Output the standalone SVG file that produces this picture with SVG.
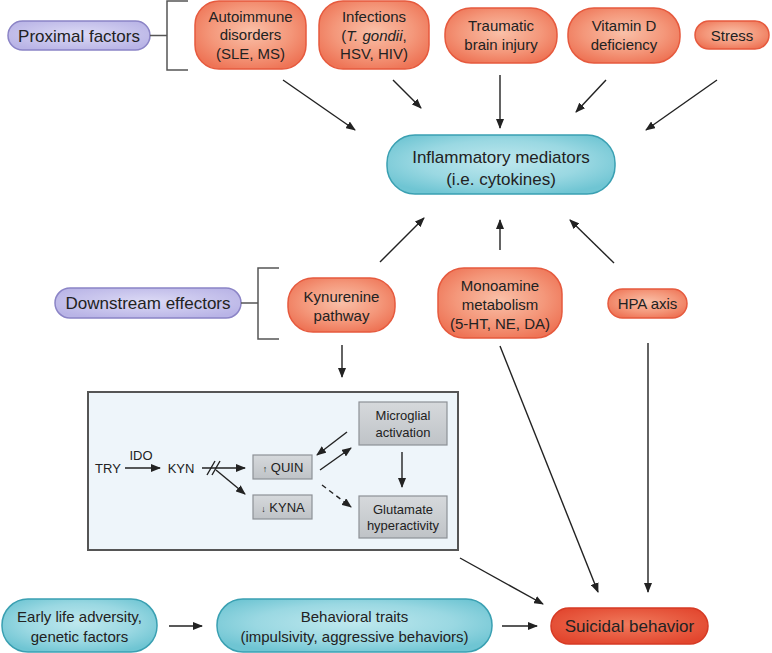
<svg xmlns="http://www.w3.org/2000/svg" width="772" height="653" viewBox="0 0 772 653">
<defs>
<radialGradient id="gRed" cx="50%" cy="45%" r="60%">
<stop offset="0" stop-color="#f9c0a8"/><stop offset="0.6" stop-color="#f4977a"/><stop offset="1" stop-color="#ee7456"/>
</radialGradient>
<radialGradient id="gSui" cx="50%" cy="45%" r="60%">
<stop offset="0" stop-color="#f07a5c"/><stop offset="1" stop-color="#e2462e"/>
</radialGradient>
<radialGradient id="gTeal" cx="50%" cy="45%" r="60%">
<stop offset="0" stop-color="#bfe8ee"/><stop offset="0.6" stop-color="#9ad8e2"/><stop offset="1" stop-color="#6fc5d3"/>
</radialGradient>
<radialGradient id="gPur" cx="50%" cy="45%" r="60%">
<stop offset="0" stop-color="#dcdaf5"/><stop offset="1" stop-color="#b9b4e6"/>
</radialGradient>
<linearGradient id="gGray" x1="0" y1="0" x2="0" y2="1">
<stop offset="0" stop-color="#d6d9dc"/><stop offset="1" stop-color="#bfc3c7"/>
</linearGradient>
<marker id="ah" markerWidth="10" markerHeight="8" refX="9" refY="4" orient="auto" markerUnits="userSpaceOnUse">
<path d="M0,0 L10,4 L0,8 z" fill="#222"/>
</marker>
<style>
.red{fill:url(#gRed);stroke:#e65a3e;stroke-width:1.5}
.sui{fill:url(#gSui);stroke:#d63a24;stroke-width:1.5}
.teal{fill:url(#gTeal);stroke:#3aa0b2;stroke-width:1.5}
.pur{fill:url(#gPur);stroke:#8b84c6;stroke-width:1.5}
.gray{fill:url(#gGray);stroke:#8d9196;stroke-width:1.2}
text{font-family:"Liberation Sans",Arial,sans-serif;fill:#222;text-anchor:middle}
.t15{font-size:15px}
.t17{font-size:17px}
.t13{font-size:13px}
.ln{stroke:#222;stroke-width:1.4;fill:none}
.arr{stroke:#222;stroke-width:1.4;fill:none;marker-end:url(#ah)}
.br{stroke:#555;stroke-width:1.5;fill:none}
</style>
</defs>
<rect width="772" height="653" fill="#ffffff"/>

<g id="proximal">
<rect class="pur" x="8" y="21" width="142" height="29" rx="14.5"/>
<text class="t17" x="79" y="41.5">Proximal factors</text>
</g>
<g id="autoimmune">
<rect class="red" x="195" y="1" width="111" height="68" rx="24"/>
<text class="t15" x="250.5" y="22">Autoimmune</text>
<text class="t15" x="250.5" y="40">disorders</text>
<text class="t15" x="250.5" y="59">(SLE, MS)</text>
</g>
<g id="infections">
<rect class="red" x="319" y="1" width="110" height="68" rx="24"/>
<text class="t15" x="374" y="22">Infections</text>
<text class="t15" x="374" y="41">(<tspan font-style="italic">T. gondii</tspan>,</text>
<text class="t15" x="374" y="59">HSV, HIV)</text>
</g>
<g id="tbi">
<rect class="red" x="445" y="8" width="112" height="55" rx="26"/>
<text class="t15" x="501" y="31">Traumatic</text>
<text class="t15" x="501" y="50">brain injury</text>
</g>
<g id="vitd">
<rect class="red" x="568" y="8" width="112" height="55" rx="26"/>
<text class="t15" x="624" y="31">Vitamin D</text>
<text class="t15" x="624" y="50">deficiency</text>
</g>
<g id="stress">
<rect class="red" x="695" y="21" width="74" height="28" rx="14"/>
<text class="t15" x="732" y="40.5">Stress</text>
</g>
<g id="inflammatory">
<rect class="teal" x="387" y="135" width="228" height="59" rx="28"/>
<text class="t17" x="501" y="163">Inflammatory mediators</text>
<text class="t17" x="501" y="185">(i.e. cytokines)</text>
</g>
<g id="downstream">
<rect class="pur" x="55" y="288" width="186" height="30" rx="15"/>
<text class="t17" x="148" y="309">Downstream effectors</text>
</g>
<g id="kynurenine">
<rect class="red" x="288" y="278" width="107" height="54" rx="25"/>
<text class="t15" x="341.5" y="302">Kynurenine</text>
<text class="t15" x="341.5" y="321">pathway</text>
</g>
<g id="monoamine">
<rect class="red" x="438" y="268" width="124" height="70" rx="26"/>
<text class="t15" x="500" y="291">Monoamine</text>
<text class="t15" x="500" y="310">metabolism</text>
<text class="t15" x="500" y="329">(5-HT, NE, DA)</text>
</g>
<g id="hpa">
<rect class="red" x="608" y="289" width="79" height="29" rx="14.5"/>
<text class="t15" x="647.5" y="309">HPA axis</text>
</g>

<g id="kyn-box">
<rect x="88" y="392" width="370" height="158" fill="#eef5fa" stroke="#555" stroke-width="2"/>
<text class="t13" x="108" y="473">TRY</text>
<text class="t13" x="141" y="460">IDO</text>
<text class="t13" x="181" y="473">KYN</text>
</g>
<g id="quin">
<rect class="gray" x="253" y="455" width="59" height="24"/>
<text class="t13" x="283" y="472"><tspan font-size="9">↑</tspan> QUIN</text>
</g>
<g id="kyna">
<rect class="gray" x="253" y="495" width="59" height="24"/>
<text class="t13" x="283" y="512"><tspan font-size="9">↓</tspan> KYNA</text>
</g>
<g id="microglial">
<rect class="gray" x="359" y="402" width="88" height="43"/>
<text class="t13" x="403" y="420">Microglial</text>
<text class="t13" x="403" y="437">activation</text>
</g>
<g id="glutamate">
<rect class="gray" x="359" y="496" width="88" height="42"/>
<text class="t13" x="403" y="514">Glutamate</text>
<text class="t13" x="403" y="530">hyperactivity</text>
</g>

<g id="early">
<rect class="teal" x="2" y="599" width="155" height="53" rx="26"/>
<text class="t15" x="79.5" y="622">Early life adversity,</text>
<text class="t15" x="79.5" y="642">genetic factors</text>
</g>
<g id="traits">
<rect class="teal" x="217" y="599" width="275" height="53" rx="26"/>
<text class="t15" x="354.5" y="622">Behavioral traits</text>
<text class="t15" x="354.5" y="642">(impulsivity, aggressive behaviors)</text>
</g>
<g id="suicidal">
<rect class="sui" x="551" y="608" width="157" height="36" rx="18"/>
<text class="t17" x="629.5" y="632">Suicidal behavior</text>
</g>

<g id="connectors">
<path class="br" d="M150,35.5 H167 M188,1 H167 V70 H188"/>
<path class="br" d="M241,303 H258 M279,268 H258 V339 H279"/>
<path class="arr" d="M283,80 L355,130"/>
<path class="arr" d="M393,80 L421,108"/>
<path class="arr" d="M500,75 L500,128"/>
<path class="arr" d="M606,80 L576,112"/>
<path class="arr" d="M717,80 L646,130"/>
<path class="arr" d="M380,262 L424,218"/>
<path class="arr" d="M500,250 L500,220"/>
<path class="arr" d="M614,263 L570,220"/>
<path class="arr" d="M342,345 L342,377"/>
<path class="arr" d="M460,558 L543,604"/>
<path class="arr" d="M500,346 L598,592"/>
<path class="arr" d="M648,343 L648,592"/>
<path class="arr" d="M169,626 L202,626"/>
<path class="arr" d="M502,626 L537,626"/>
<path class="arr" d="M125,468 L160,468"/>
<path class="arr" d="M202,468 L245,468"/>
<path class="ln" d="M207,475 L215,461 M212,475 L220,461"/>
<path class="arr" d="M216,470 L245,494"/>
<path class="arr" d="M347,432 L317,455"/>
<path class="arr" d="M320,470 L351,448"/>
<path class="arr" d="M322,485 L351,507" stroke-dasharray="5,4"/>
<path class="arr" d="M402,452 L402,487"/>
</g>
</svg>
